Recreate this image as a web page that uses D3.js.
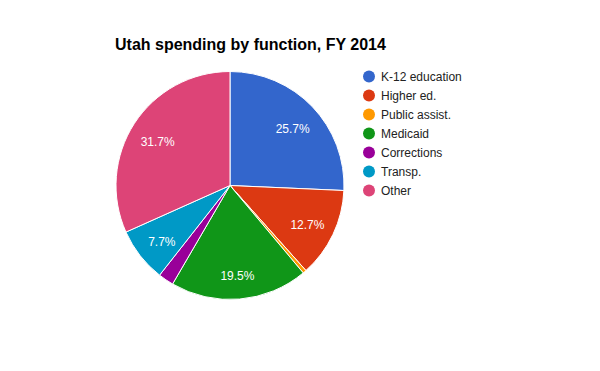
<!DOCTYPE html>
<html><head><meta charset="utf-8">
<script src="https://cdn.jsdelivr.net/npm/d3@7"></script>
<style>body{margin:0;background:#fff}svg{display:block}</style>
</head><body>
<script>
const title = "Utah spending by function, FY 2014";
const categories = ["K-12 education","Higher ed.","Public assist.","Medicaid","Corrections","Transp.","Other"];
const values = [25.7, 12.7, 0.5, 19.5, 2.2, 7.7, 31.7];
const colors = ["#3366cc","#dc3912","#ff9900","#109618","#990099","#0099c6","#dd4477"];

const W = 600, H = 371;
const cx = 230, cy = 185.5, R = 114;
const svg = d3.select("body").append("svg").attr("width", W).attr("height", H);

svg.append("text").attr("x", 115).attr("y", 50)
  .attr("font-family", "Arial, 'Liberation Sans', sans-serif").attr("font-size", 16).attr("font-weight", "bold")
  .attr("fill", "#000").text(title);

const data = categories.map((c, i) => ({c, v: values[i], col: colors[i]}));
const pie = d3.pie().sort(null).value(d => d.v);
const arcs = pie(data);
const arc = d3.arc().innerRadius(0).outerRadius(R);
const total = d3.sum(values);

const g = svg.append("g").attr("transform", `translate(${cx},${cy})`);
g.selectAll("path").data(arcs).join("path")
  .attr("d", arc).attr("fill", d => d.data.col)
  .attr("stroke", "#fff").attr("stroke-width", 1);

function labelPos(d) {
  const a = (d.startAngle + d.endAngle) / 2;
  const r = R * 0.737 + 4 * Math.abs(Math.cos(a));
  return [Math.sin(a) * r, -Math.cos(a) * r + 3];
}
g.selectAll("text").data(arcs.filter(d => d.data.v / total > 0.05)).join("text")
  .attr("transform", d => `translate(${labelPos(d)})`)
  .attr("text-anchor", "middle").attr("dy", "0.35em")
  .attr("font-family", "Arial, 'Liberation Sans', sans-serif").attr("font-size", 12)
  .attr("fill", "#fff")
  .text(d => (d.data.v / total * 100).toFixed(1) + "%");

const lg = svg.append("g");
const rows = lg.selectAll("g").data(data).join("g")
  .attr("transform", (d, i) => `translate(369,${76.5 + i * 19})`);
rows.append("circle").attr("r", 6).attr("fill", d => d.col);
rows.append("text").attr("x", 12).attr("dy", "0.35em")
  .attr("font-family", "Arial, 'Liberation Sans', sans-serif").attr("font-size", 12)
  .attr("fill", "#222").text(d => d.c);
</script>
</body></html>
